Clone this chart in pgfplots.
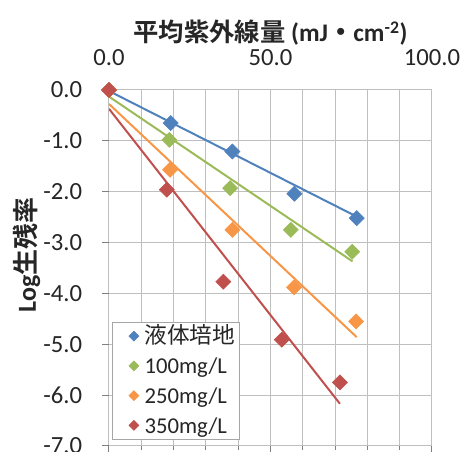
\documentclass[border=0pt]{standalone}
\usepackage{pgfplots}
\pgfplotsset{compat=1.18}
\usepackage{fontspec}
\setmainfont{Carlito}
\newfontfamily\jp{Noto Sans CJK JP}
\newfontfamily\jpb{Noto Sans CJK JP Bold}
\definecolor{cblue}{HTML}{4F81BD}
\definecolor{cgreen}{HTML}{9BBB59}
\definecolor{corange}{HTML}{F79646}
\definecolor{cred}{HTML}{C0504D}
\definecolor{gridc}{HTML}{BFBFBF}
\begin{document}
\begin{tikzpicture}
\begin{axis}[
  at={(0pt,0pt)}, anchor=south west,
  scale only axis, width=242.25pt, height=267pt,
  xmin=0, xmax=100, ymin=-7, ymax=0,
  xtick={0,50,100},
  minor xtick={10,20,30,40,60,70,80,90},
  ytick={-7,-6,-5,-4,-3,-2,-1,0},
  grid=both,
  major grid style={gridc, line width=0.75pt},
  minor grid style={gridc, line width=0.75pt},
  axis line style={draw=none},
  xtick pos=lower,
  xticklabel pos=upper,
  ytick pos=left,
  tick align=outside,
  major tick length=5pt,
  minor tick length=3pt,
  tick style={gray, line width=0.75pt},
  /pgf/number format/assume math mode=true,
  /pgf/number format/fixed,
  /pgf/number format/fixed zerofill,
  /pgf/number format/precision=1,
  ticklabel style={font=\fontsize{18.5}{22}\selectfont, text=black!85},
  yticklabel style={anchor=east, inner sep=0pt, xshift=-15pt},
  xticklabel style={anchor=base, inner sep=0pt, yshift=13.5pt},
  title={{\jpb 平均紫外線量} {\bfseries (mJ{\jpb ・}cm\textsuperscript{-2})}},
  every axis title/.style={at={(axis description cs:0.5,1.1601)}, anchor=center, font=\fontsize{19}{22}\selectfont, text=black!85},
  ylabel={{\bfseries Log}{\jpb 生残率}},
  every axis y label/.style={at={(axis description cs:-0.2539,0.5365)}, rotate=90, anchor=center, font=\fontsize{19.5}{22}\selectfont, text=black!85},
  legend style={at={(axis description cs:0.0093,0.0169)}, anchor=south west, draw=gray!70, fill=white, font=\fontsize{17}{19}\selectfont, text=black!85, inner xsep=2pt, inner ysep=2.5pt, row sep=5.8pt, nodes={inner sep=1pt, text height=13pt, text depth=1.5pt}},
  legend cell align=left,
  every axis plot post/.append style={legend image code/.code={\path[draw=none, fill=none] (-14.25pt,0pt) -- (7pt,0pt); \draw[##1, mark size=2.65pt] plot coordinates {(0pt,0pt)};}},
]
% trend lines
\addplot[cblue, line width=1.5pt, forget plot] coordinates {(0,-0.02) (76.7,-2.49)};
\addplot[cgreen, line width=1.5pt, forget plot] coordinates {(0,-0.13) (75.4,-3.37)};
\addplot[corange, line width=1.5pt, forget plot] coordinates {(0,-0.275) (76.7,-4.86)};
\addplot[cred, line width=1.5pt, forget plot] coordinates {(0,-0.37) (71.5,-6.17)};
% data
\addplot[only marks, mark=square*, mark size=4pt, mark options={rotate=45, draw=cblue, fill=cblue}] coordinates {(0,0) (19.1,-0.65) (38.2,-1.21) (57.4,-2.04) (76.7,-2.52)};
\addlegendentry{{\jp 液体培地}\hspace{6pt}}
\addplot[only marks, mark=square*, mark size=4pt, mark options={rotate=45, draw=cgreen, fill=cgreen}] coordinates {(0,0) (18.7,-0.98) (37.5,-1.93) (56.3,-2.75) (75.3,-3.18)};
\addlegendentry{100mg/L}
\addplot[only marks, mark=square*, mark size=4pt, mark options={rotate=45, draw=corange, fill=corange}] coordinates {(0,0) (18.9,-1.57) (38.2,-2.75) (57.3,-3.88) (76.5,-4.55)};
\addlegendentry{250mg/L}
\addplot[only marks, mark=square*, mark size=4pt, mark options={rotate=45, draw=cred, fill=cred}] coordinates {(0,0) (17.9,-1.96) (35.4,-3.77) (53.5,-4.91) (71.5,-5.75)};
\addlegendentry{350mg/L}
\end{axis}
\pgfresetboundingbox
\path (-81.75pt,-4.5pt) rectangle (264.75pt,334.5pt);
\end{tikzpicture}
\end{document}
